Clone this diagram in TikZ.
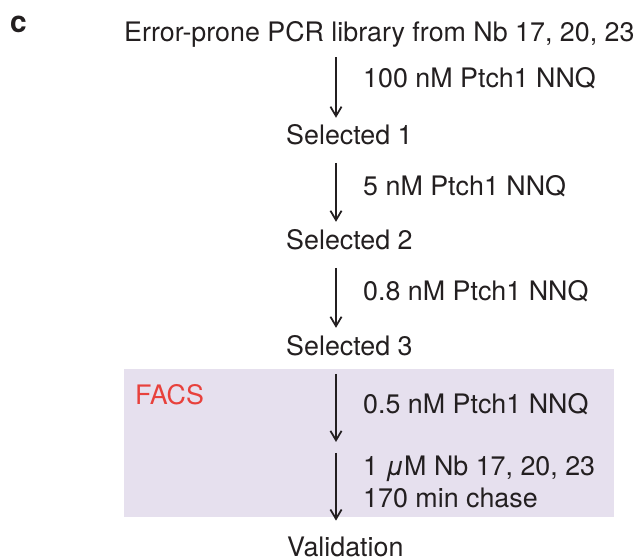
\documentclass[tikz,border=0pt]{standalone}
\usepackage{fontspec}
\setmainfont{TeX Gyre Heros}
\usetikzlibrary{arrows.meta, positioning}
\definecolor{fgink}{HTML}{231F20}
\definecolor{facsred}{HTML}{E8413C}
\definecolor{facsbg}{HTML}{E6E0EE}

\begin{document}
\begin{tikzpicture}[
    x=0.03cm, y=-0.03cm,
    every node/.style={inner sep=0pt, text=fgink, font=\fontsize{22.9}{26.5}\selectfont},
    stage/.style={anchor=base west, text height=16pt, text depth=5pt},
    cond/.style={anchor=base west, align=left},
    flow/.style={draw=fgink, line width=1.5pt,
                 -{Straight Barb[length=8pt, width=9.5pt]},
                 shorten <=11pt, shorten >=7pt},
  ]
  \useasboundingbox (0,0) rectangle (634,560);

  % ===== FACS panel =====
  \fill[facsbg] (124,369) rectangle (614,517);
  \node[anchor=base west, text=facsred] (facs) at (135,404) {FACS};

  % ===== panel letter =====
  \node[anchor=base west, font=\fontsize{25.6}{30}\selectfont\bfseries] (letter) at (10,32) {c};

  % ===== stages =====
  \coordinate (spine) at (336,0);
  \node[stage] (lib)  at (124,42)  {Error-prone PCR library from Nb 17, 20, 23};
  \node[stage] (sel1) at (286,144) {Selected 1};
  \node[stage] (sel2) at (286,249) {Selected 2};
  \node[stage] (sel3) at (286,355) {Selected 3};
  \coordinate (mid) at (336,447);
  \node[stage] (valid) at (287,556) {Validation};

  % ===== conditions =====
  \node[cond] (c1) at (363,87)  {100 nM Ptch1 NNQ};
  \node[cond] (c2) at (363,195) {5 nM Ptch1 NNQ};
  \node[cond] (c3) at (363,300) {0.8 nM Ptch1 NNQ};
  \node[cond] (c4) at (363,413) {0.5 nM Ptch1 NNQ};
  \node[cond] (c5) at (363,507) {1 \textit{μ}M Nb 17, 20, 23\\170 min chase};

  % ===== arrows =====
  \draw[flow, shorten <=7.8pt, shorten >=6.2pt] (lib.south -| spine) -- (sel1.north -| spine);
  \draw[flow] (sel1.south -| spine) -- (sel2.north -| spine);
  \draw[flow] (sel2.south -| spine) -- (sel3.north -| spine);
  \draw[flow, shorten >=4.3pt] (sel3.south -| spine) -- (mid);
  \draw[flow, shorten <=5pt, shorten >=14pt] (mid) -- (valid.north -| spine);
\end{tikzpicture}
\end{document}
